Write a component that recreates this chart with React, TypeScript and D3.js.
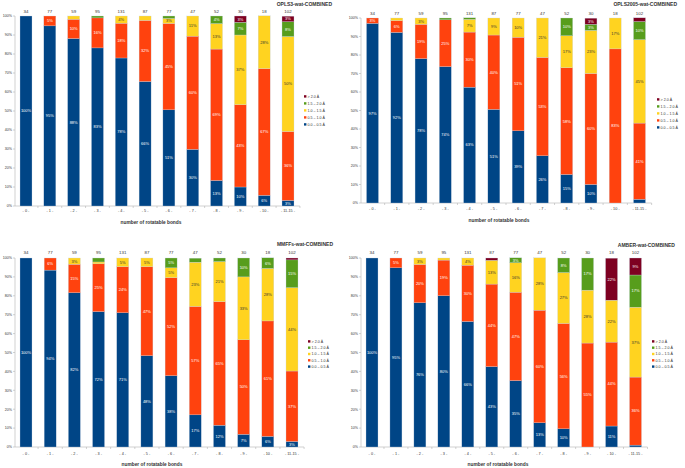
import React from "react";
import * as d3 from "d3";

const categories = ["- 0 -", "- 1 -", "- 2 -", "- 3 -", "- 4 -", "- 5 -", "- 6 -", "- 7 -", "- 8 -", "- 9 -", "- 10 -", "- 11-15 -"];
const counts = [34, 77, 59, 95, 131, 87, 77, 47, 52, 30, 18, 102];
const seriesNames = ["0.0 – 0.5 Å", "0.5 – 1.0 Å", "1.0 – 1.5 Å", "1.5 – 2.0 Å", "> 2.0 Å"];
const yTicks = [0, 10, 20, 30, 40, 50, 60, 70, 80, 90, 100];

const opls3Blue = [100, 94.8, 88.1, 83.2, 77.9, 65.5, 50.6, 29.8, 13.4, 10, 5.6, 2.9];
const opls3Orange = [0, 5.2, 10.2, 15.8, 18.3, 32.2, 45.5, 59.6, 69.2, 43.3, 66.7, 36.3];
const opls3Yellow = [0, 0, 1.7, 0, 3.8, 2.3, 2.6, 10.6, 13.4, 36.7, 27.8, 50];
const opls3Green = [0, 0, 0, 1.0, 0, 0, 1.3, 0, 4, 6.7, 0, 7.8];
const opls3Red = [0, 0, 0, 0, 0, 0, 0, 0, 0, 3.3, 0, 2.9];

const opls2005Blue = [97.1, 92.2, 78, 73.7, 62.6, 50.6, 39, 25.5, 15.4, 10, 0, 2];
const opls2005Orange = [2.9, 6.4, 18.6, 25.3, 29.8, 40.2, 50.6, 53.2, 57.7, 60, 83.3, 41.2];
const opls2005Yellow = [0, 1.4, 3.4, 0, 6.9, 9.2, 10.4, 21.3, 17.3, 23.3, 16.7, 45.1];
const opls2005Green = [0, 0, 0, 1.0, 0.8, 0, 0, 0, 9.6, 3.3, 0, 9.8];
const opls2005Red = [0, 0, 0, 0, 0, 0, 0, 0, 0, 3.3, 0, 2];

const mmffsBlue = [100, 93.6, 81.6, 71.6, 71, 48.3, 37.7, 17, 11.5, 6.7, 5.6, 2.9];
const mmffsOrange = [0, 6.4, 15.1, 25.3, 24.4, 47.1, 51.9, 57.4, 65.4, 50, 61.1, 37.3];
const mmffsYellow = [0, 0, 3.3, 1.0, 4.6, 4.6, 5.2, 23.4, 21.2, 33.3, 27.8, 44.1];
const mmffsGreen = [0, 0, 0, 2.1, 0, 0, 5.2, 2.1, 1.9, 10, 5.6, 14.7];
const mmffsRed = [0, 0, 0, 0, 0, 0, 0, 0, 0, 0, 0, 1];

const amberBlue = [100, 94.8, 76.3, 80, 66.4, 42.5, 35.1, 12.8, 9.6, 0, 11.1, 1];
const amberOrange = [0, 5.2, 20.3, 18.9, 29.8, 43.7, 46.8, 59.6, 55.8, 55, 44.4, 36];
const amberYellow = [0, 0, 3.4, 1.1, 3.8, 12.6, 15.6, 27.7, 26.9, 28, 22.2, 37];
const amberGreen = [0, 0, 0, 0, 0, 0, 2.6, 0, 7.7, 17, 0, 17];
const amberRed = [0, 0, 0, 0, 0, 1.2, 0, 0, 0, 0, 22.2, 9];

const colors = ["#004586", "#ff420e", "#ffd320", "#579d1c", "#7e0021"];
const labelColors = ["#ffffff", "#ffffff", "#333333", "#ffffff", "#ffffff"];
const keys = ["s0", "s1", "s2", "s3", "s4"];
const FONT = "'Liberation Sans', Arial, sans-serif";

const panels = [
  {
    title: "OPLS3-wat-COMBINED",
    series: [opls3Blue, opls3Orange, opls3Yellow, opls3Green, opls3Red],
    L: { axisX: 15, top: 16, bottom: 206, x0: 26, x1: 288, bw: 12, titleX: 332, titleY: 6, legX: 304, legY: 97, legStep: 7, countY: 13, tickY: 212, axTitleX: 151, axTitleY: 224 },
  },
  {
    title: "OPLS2005-wat-COMBINED",
    series: [opls2005Blue, opls2005Orange, opls2005Yellow, opls2005Green, opls2005Red],
    L: { axisX: 361, top: 18, bottom: 203, x0: 372.5, x1: 639.5, bw: 12, titleX: 677, titleY: 6, legX: 657, legY: 100, legStep: 7, countY: 15, tickY: 210, axTitleX: 499, axTitleY: 222 },
  },
  {
    title: "MMFFs-wat-COMBINED",
    series: [mmffsBlue, mmffsOrange, mmffsYellow, mmffsGreen, mmffsRed],
    L: { axisX: 15, top: 258, bottom: 447, x0: 26, x1: 292, bw: 12, titleX: 333, titleY: 246, legX: 308, legY: 342, legStep: 6.3, countY: 254, tickY: 455, axTitleX: 152, axTitleY: 466 },
  },
  {
    title: "AMBER-wat-COMBINED",
    series: [amberBlue, amberOrange, amberYellow, amberGreen, amberRed],
    L: { axisX: 361, top: 258, bottom: 447, x0: 372, x1: 635.5, bw: 12, titleX: 675, titleY: 247, legX: 652, legY: 342, legStep: 6.3, countY: 254, tickY: 455, axTitleX: 498, axTitleY: 466 },
  },
];

function Panel({ p }: { p: any }) {
  const L = p.L;
  const rows = categories.map((c, i) => {
    const r: any = { cat: c };
    keys.forEach((k, j) => (r[k] = p.series[j][i]));
    return r;
  });
  const stacked = d3.stack().keys(keys)(rows);
  const x = d3.scalePoint().domain(categories).range([L.x0, L.x1]);
  const y = d3.scaleLinear().domain([0, 100]).range([L.bottom, L.top]);
  const step = (L.x1 - L.x0) / (categories.length - 1);
  const axisEnd = L.x1 + step / 2;
  return (
    <g>
      {/* y axis */}
      <line x1={L.axisX} x2={L.axisX} y1={y(0)} y2={y(100)} stroke="#b3b3b3" strokeWidth={0.6} />
      {yTicks.map((t) => (
        <g key={t}>
          <line x1={L.axisX - 2} x2={L.axisX} y1={y(t)} y2={y(t)} stroke="#b3b3b3" strokeWidth={0.6} />
          <text x={L.axisX - 3} y={y(t) + 1.3} fontSize={3.6} textAnchor="end" fill="#333" fontFamily={FONT}>
            {t}%
          </text>
        </g>
      ))}
      {/* x axis */}
      <line x1={L.axisX} x2={axisEnd} y1={y(0)} y2={y(0)} stroke="#b3b3b3" strokeWidth={0.6} />
      {categories.map((c, i) => (
        <line key={"xt" + i} x1={L.x0 + step * (i + 0.5)} x2={L.x0 + step * (i + 0.5)} y1={y(0)} y2={y(0) + 2} stroke="#b3b3b3" strokeWidth={0.6} />
      ))}
      {categories.map((c) => (
        <text key={"xl" + c} x={x(c)} y={L.tickY} fontSize={3.8} textAnchor="middle" fill="#333" fontFamily={FONT}>
          {c}
        </text>
      ))}
      {/* bars */}
      {stacked.map((s: any, si: number) =>
        s.map((d: any, i: number) => {
          const v = d[1] - d[0];
          if (v <= 0) return null;
          return (
            <rect key={si + "-" + i} x={x(categories[i])! - L.bw / 2} width={L.bw} y={y(d[1])} height={y(d[0]) - y(d[1])} fill={colors[si]} stroke="#c6d3e3" strokeWidth={0.3} />
          );
        })
      )}
      {stacked.map((s: any, si: number) =>
        s.map((d: any, i: number) => {
          const v = d[1] - d[0];
          if (v < 2.5) return null;
          return (
            <text key={"lb" + si + "-" + i} x={x(categories[i])} y={(y(d[0]) + y(d[1])) / 2 + 1.4} fontSize={4} textAnchor="middle" fill={labelColors[si]} fontFamily={FONT}>
              {Math.round(v)}%
            </text>
          );
        })
      )}
      {/* counts */}
      {categories.map((c, i) => (
        <text key={"ct" + i} x={x(c)} y={L.countY} fontSize={4.4} textAnchor="middle" fill="#333" fontFamily={FONT}>
          {counts[i]}
        </text>
      ))}
      {/* title */}
      <text x={L.titleX} y={L.titleY} fontSize={5} fontWeight="bold" textAnchor="end" fill="#333" fontFamily={FONT}>
        {p.title}
      </text>
      <text x={L.axTitleX} y={L.axTitleY} fontSize={4.8} fontWeight="bold" textAnchor="middle" fill="#333" fontFamily={FONT}>
        number of rotatable bonds
      </text>
      {/* legend (top: > 2.0) */}
      {[4, 3, 2, 1, 0].map((si, r) => (
        <g key={"lg" + si}>
          <rect x={L.legX} y={L.legY + r * L.legStep - 1.8} width={2.4} height={2.4} fill={colors[si]} />
          <text x={L.legX + 3.6} y={L.legY + r * L.legStep + 0.6} fontSize={3.6} fill="#333" fontFamily={FONT}>
            {seriesNames[si]}
          </text>
        </g>
      ))}
    </g>
  );
}

export default function App() {
  return (
    <svg width={685} height={468} style={{ position: "absolute", left: 0, top: 0, background: "#fff" }}>
      <rect width={685} height={468} fill="#fff" />
      {panels.map((p) => (
        <Panel key={p.title} p={p} />
      ))}
    </svg>
  );
}
